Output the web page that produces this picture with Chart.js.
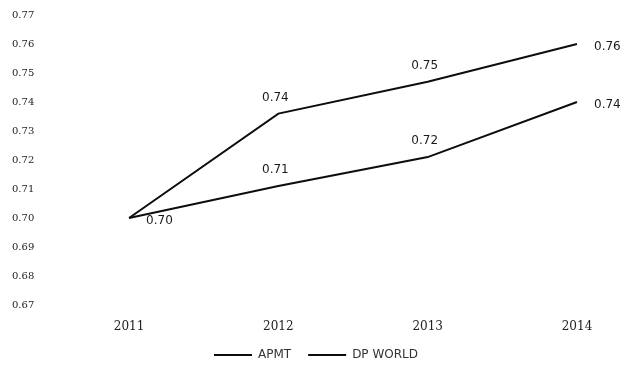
<!DOCTYPE html>
<html>
<head>
<meta charset="utf-8">
<script src="https://cdn.jsdelivr.net/npm/chart.js@4/dist/chart.umd.min.js"></script>
<style>
  html, body { margin: 0; padding: 0; background: #fff; overflow: hidden; }
  #c { display: block; }
</style>
</head>
<body>
<canvas id="c" width="628" height="371"></canvas>
<script>
// Efficiency scores per year
const years = [2011, 2012, 2013, 2014];
const apmt = [0.70, 0.736, 0.747, 0.76];
const dpWorld = [0.70, 0.711, 0.721, 0.74];
const yTickValues = [0.67, 0.68, 0.69, 0.70, 0.71, 0.72, 0.73, 0.74, 0.75, 0.76, 0.77];

// where each value label sits relative to its point
const apmtLabelPos = [null, 'above', 'above', 'right'];
const dpLabelPos = ['right', 'above', 'above', 'right'];

const toPoints = vals => years.map((yr, i) => ({ x: yr, y: vals[i] }));

const valueLabels = {
  id: 'valueLabels',
  afterDatasetsDraw(chart) {
    const ctx = chart.ctx;
    ctx.save();
    ctx.font = '12px "DejaVu Sans", sans-serif';
    ctx.fillStyle = '#1a1a1a';
    chart.data.datasets.forEach((ds, di) => {
      const meta = chart.getDatasetMeta(di);
      meta.data.forEach((pt, i) => {
        const pos = ds.labelPos[i];
        if (!pos) return;
        const txt = ds.data[i].y.toFixed(2);
        ctx.textBaseline = 'middle';
        if (pos === 'above') {
          ctx.textAlign = 'center';
          ctx.fillText(txt, pt.x - 3, pt.y - 16);
        } else {
          ctx.textAlign = 'left';
          ctx.fillText(txt, pt.x + 17, pt.y + 3);
        }
      });
    });
    ctx.restore();
  }
};

new Chart(document.getElementById('c'), {
  type: 'line',
  data: {
    datasets: [
      {
        label: 'APMT',
        data: toPoints(apmt),
        labelPos: apmtLabelPos,
        borderColor: '#0d0d0d',
        backgroundColor: '#0d0d0d',
        borderWidth: 2,
        pointRadius: 0,
        tension: 0
      },
      {
        label: 'DP WORLD',
        data: toPoints(dpWorld),
        labelPos: dpLabelPos,
        borderColor: '#0d0d0d',
        backgroundColor: '#0d0d0d',
        borderWidth: 2,
        pointRadius: 0,
        tension: 0
      }
    ]
  },
  options: {
    responsive: false,
    animation: false,
    devicePixelRatio: 1,
    layout: { padding: { top: 15, left: 12, right: 8, bottom: 0 } },
    scales: {
      x: {
        type: 'linear',
        min: 2010.504,
        max: 2014.288,
        grid: { display: false, drawTicks: false },
        border: { display: false },
        afterBuildTicks: s => { s.ticks = years.map(v => ({ value: v })); },
        afterFit: s => { s.height = 27; },
        ticks: {
          padding: 15,
          color: '#222',
          font: { family: '"DejaVu Serif", serif', size: 12 },
          callback: v => String(v)
        }
      },
      y: {
        min: 0.67,
        max: 0.77,
        grid: { display: false, drawTicks: false },
        border: { display: false },
        afterBuildTicks: s => { s.ticks = yTickValues.map(v => ({ value: v })); },
        afterFit: s => { s.width = 43; },
        ticks: {
          crossAlign: 'far',
          padding: 0,
          color: '#222',
          font: { family: '"DejaVu Serif", serif', size: 10 },
          callback: v => Number(v).toFixed(2)
        }
      }
    },
    plugins: {
      tooltip: { enabled: false },
      legend: {
        position: 'bottom',
        labels: {
          usePointStyle: true,
          pointStyle: 'line',
          pointStyleWidth: 38,
          padding: 17,
          color: '#333',
          font: { family: '"DejaVu Sans", sans-serif', size: 12 }
        }
      }
    }
  },
  plugins: [valueLabels]
});
</script>
</body>
</html>
